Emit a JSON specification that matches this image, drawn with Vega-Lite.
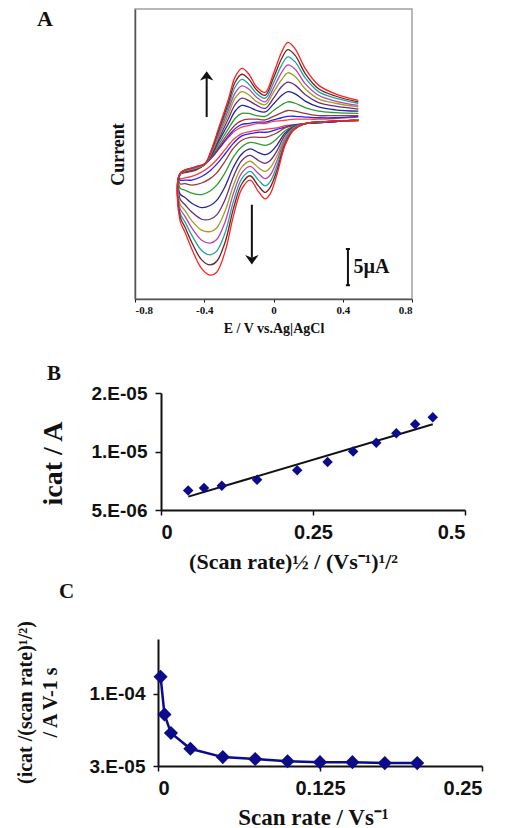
{
"$schema":"https://vega.github.io/schema/vega-lite/v6.json",
"background":"white",
"padding":{"left":15,"top":7,"right":5,"bottom":0},
"spacing":9,
"config":{"view":{"stroke":null},"axis":{"grid":false,"labelOverlap":false,"domainColor":"#111","tickColor":"#111","labelColor":"#111","titleColor":"#111"}},
"datasets":{
"cv":[
{"c":1,"o":1,"E":0.49,"I":4.7},{"c":1,"o":2,"E":0.318,"I":4.4},{"c":1,"o":3,"E":0.183,"I":4.2},{"c":1,"o":4,"E":0.116,"I":4.0},{"c":1,"o":5,"E":0.067,"I":3.9},{"c":1,"o":6,"E":0.019,"I":3.6},{"c":1,"o":7,"E":-0.019,"I":3.5},{"c":1,"o":8,"E":-0.048,"I":3.4},{"c":1,"o":9,"E":-0.087,"I":3.3},{"c":1,"o":10,"E":-0.135,"I":3.1},{"c":1,"o":11,"E":-0.183,"I":2.8},{"c":1,"o":12,"E":-0.231,"I":2.0},{"c":1,"o":13,"E":-0.28,"I":0.6},{"c":1,"o":14,"E":-0.328,"I":-0.8},{"c":1,"o":15,"E":-0.366,"I":-1.7},{"c":1,"o":16,"E":-0.415,"I":-2.5},{"c":1,"o":17,"E":-0.472,"I":-3.1},{"c":1,"o":18,"E":-0.511,"I":-3.3},{"c":1,"o":19,"E":-0.54,"I":-3.4},{"c":1,"o":20,"E":-0.54,"I":-2.8},{"c":1,"o":21,"E":-0.453,"I":-2.3},{"c":1,"o":22,"E":-0.395,"I":-1.4},{"c":1,"o":23,"E":-0.357,"I":-0.5},{"c":1,"o":24,"E":-0.318,"I":0.6},{"c":1,"o":25,"E":-0.26,"I":2.3},{"c":1,"o":26,"E":-0.222,"I":3.2},{"c":1,"o":27,"E":-0.183,"I":3.7},{"c":1,"o":28,"E":-0.145,"I":3.9},{"c":1,"o":29,"E":-0.096,"I":4.2},{"c":1,"o":30,"E":-0.048,"I":4.2},{"c":1,"o":31,"E":0,"I":4.5},{"c":1,"o":32,"E":0.048,"I":4.6},{"c":1,"o":33,"E":0.083,"I":4.7},{"c":1,"o":34,"E":0.125,"I":4.8},{"c":1,"o":35,"E":0.183,"I":4.8},{"c":1,"o":36,"E":0.26,"I":4.8},{"c":1,"o":37,"E":0.357,"I":4.9},{"c":1,"o":38,"E":0.49,"I":5.1},
{"c":2,"o":1,"E":0.49,"I":4.7},{"c":2,"o":2,"E":0.318,"I":4.4},{"c":2,"o":3,"E":0.183,"I":4.2},{"c":2,"o":4,"E":0.116,"I":4.0},{"c":2,"o":5,"E":0.067,"I":3.7},{"c":2,"o":6,"E":0.019,"I":3.4},{"c":2,"o":7,"E":-0.019,"I":3.1},{"c":2,"o":8,"E":-0.048,"I":3.0},{"c":2,"o":9,"E":-0.087,"I":3.0},{"c":2,"o":10,"E":-0.135,"I":2.8},{"c":2,"o":11,"E":-0.183,"I":2.5},{"c":2,"o":12,"E":-0.231,"I":1.5},{"c":2,"o":13,"E":-0.28,"I":0.0},{"c":2,"o":14,"E":-0.328,"I":-1.4},{"c":2,"o":15,"E":-0.366,"I":-2.3},{"c":2,"o":16,"E":-0.415,"I":-3.1},{"c":2,"o":17,"E":-0.472,"I":-3.6},{"c":2,"o":18,"E":-0.511,"I":-3.6},{"c":2,"o":19,"E":-0.54,"I":-3.6},{"c":2,"o":20,"E":-0.54,"I":-2.8},{"c":2,"o":21,"E":-0.453,"I":-2.2},{"c":2,"o":22,"E":-0.395,"I":-1.4},{"c":2,"o":23,"E":-0.357,"I":-0.5},{"c":2,"o":24,"E":-0.318,"I":0.7},{"c":2,"o":25,"E":-0.26,"I":2.5},{"c":2,"o":26,"E":-0.222,"I":3.5},{"c":2,"o":27,"E":-0.183,"I":4.1},{"c":2,"o":28,"E":-0.145,"I":4.2},{"c":2,"o":29,"E":-0.096,"I":4.4},{"c":2,"o":30,"E":-0.048,"I":4.4},{"c":2,"o":31,"E":0,"I":4.7},{"c":2,"o":32,"E":0.048,"I":5.0},{"c":2,"o":33,"E":0.083,"I":5.2},{"c":2,"o":34,"E":0.125,"I":5.2},{"c":2,"o":35,"E":0.183,"I":5.1},{"c":2,"o":36,"E":0.26,"I":5.0},{"c":2,"o":37,"E":0.357,"I":5.0},{"c":2,"o":38,"E":0.49,"I":5.2},
{"c":3,"o":1,"E":0.49,"I":4.7},{"c":3,"o":2,"E":0.318,"I":4.4},{"c":3,"o":3,"E":0.183,"I":4.2},{"c":3,"o":4,"E":0.116,"I":3.9},{"c":3,"o":5,"E":0.067,"I":3.6},{"c":3,"o":6,"E":0.019,"I":2.9},{"c":3,"o":7,"E":-0.019,"I":2.5},{"c":3,"o":8,"E":-0.048,"I":2.3},{"c":3,"o":9,"E":-0.087,"I":2.3},{"c":3,"o":10,"E":-0.135,"I":2.3},{"c":3,"o":11,"E":-0.183,"I":1.9},{"c":3,"o":12,"E":-0.231,"I":0.8},{"c":3,"o":13,"E":-0.28,"I":-1.0},{"c":3,"o":14,"E":-0.328,"I":-2.6},{"c":3,"o":15,"E":-0.366,"I":-3.4},{"c":3,"o":16,"E":-0.415,"I":-4.0},{"c":3,"o":17,"E":-0.472,"I":-4.3},{"c":3,"o":18,"E":-0.511,"I":-4.1},{"c":3,"o":19,"E":-0.54,"I":-4.1},{"c":3,"o":20,"E":-0.54,"I":-2.8},{"c":3,"o":21,"E":-0.453,"I":-2.2},{"c":3,"o":22,"E":-0.395,"I":-1.4},{"c":3,"o":23,"E":-0.357,"I":-0.4},{"c":3,"o":24,"E":-0.318,"I":0.9},{"c":3,"o":25,"E":-0.26,"I":2.9},{"c":3,"o":26,"E":-0.222,"I":4.0},{"c":3,"o":27,"E":-0.183,"I":4.6},{"c":3,"o":28,"E":-0.145,"I":4.8},{"c":3,"o":29,"E":-0.096,"I":4.8},{"c":3,"o":30,"E":-0.048,"I":4.7},{"c":3,"o":31,"E":0,"I":5.2},{"c":3,"o":32,"E":0.048,"I":5.7},{"c":3,"o":33,"E":0.083,"I":6.0},{"c":3,"o":34,"E":0.125,"I":5.9},{"c":3,"o":35,"E":0.183,"I":5.6},{"c":3,"o":36,"E":0.26,"I":5.3},{"c":3,"o":37,"E":0.357,"I":5.3},{"c":3,"o":38,"E":0.49,"I":5.3},
{"c":4,"o":1,"E":0.49,"I":4.7},{"c":4,"o":2,"E":0.318,"I":4.4},{"c":4,"o":3,"E":0.183,"I":4.2},{"c":4,"o":4,"E":0.116,"I":3.8},{"c":4,"o":5,"E":0.067,"I":3.2},{"c":4,"o":6,"E":0.019,"I":2.1},{"c":4,"o":7,"E":-0.019,"I":1.4},{"c":4,"o":8,"E":-0.048,"I":1.2},{"c":4,"o":9,"E":-0.087,"I":1.4},{"c":4,"o":10,"E":-0.135,"I":1.6},{"c":4,"o":11,"E":-0.183,"I":1.0},{"c":4,"o":12,"E":-0.231,"I":-0.4},{"c":4,"o":13,"E":-0.28,"I":-2.6},{"c":4,"o":14,"E":-0.328,"I":-4.3},{"c":4,"o":15,"E":-0.366,"I":-5.1},{"c":4,"o":16,"E":-0.415,"I":-5.6},{"c":4,"o":17,"E":-0.472,"I":-5.4},{"c":4,"o":18,"E":-0.511,"I":-5.0},{"c":4,"o":19,"E":-0.54,"I":-4.7},{"c":4,"o":20,"E":-0.54,"I":-2.8},{"c":4,"o":21,"E":-0.453,"I":-2.1},{"c":4,"o":22,"E":-0.395,"I":-1.4},{"c":4,"o":23,"E":-0.357,"I":-0.2},{"c":4,"o":24,"E":-0.318,"I":1.3},{"c":4,"o":25,"E":-0.26,"I":3.5},{"c":4,"o":26,"E":-0.222,"I":4.9},{"c":4,"o":27,"E":-0.183,"I":5.6},{"c":4,"o":28,"E":-0.145,"I":5.6},{"c":4,"o":29,"E":-0.096,"I":5.3},{"c":4,"o":30,"E":-0.048,"I":5.2},{"c":4,"o":31,"E":0,"I":6.0},{"c":4,"o":32,"E":0.048,"I":6.8},{"c":4,"o":33,"E":0.083,"I":7.2},{"c":4,"o":34,"E":0.125,"I":7.0},{"c":4,"o":35,"E":0.183,"I":6.4},{"c":4,"o":36,"E":0.26,"I":5.9},{"c":4,"o":37,"E":0.357,"I":5.7},{"c":4,"o":38,"E":0.49,"I":5.6},
{"c":5,"o":1,"E":0.49,"I":4.7},{"c":5,"o":2,"E":0.318,"I":4.4},{"c":5,"o":3,"E":0.183,"I":4.2},{"c":5,"o":4,"E":0.116,"I":3.7},{"c":5,"o":5,"E":0.067,"I":2.9},{"c":5,"o":6,"E":0.019,"I":1.2},{"c":5,"o":7,"E":-0.019,"I":0.2},{"c":5,"o":8,"E":-0.048,"I":-0.1},{"c":5,"o":9,"E":-0.087,"I":0.2},{"c":5,"o":10,"E":-0.135,"I":0.7},{"c":5,"o":11,"E":-0.183,"I":0.0},{"c":5,"o":12,"E":-0.231,"I":-1.8},{"c":5,"o":13,"E":-0.28,"I":-4.5},{"c":5,"o":14,"E":-0.328,"I":-6.4},{"c":5,"o":15,"E":-0.366,"I":-7.1},{"c":5,"o":16,"E":-0.415,"I":-7.4},{"c":5,"o":17,"E":-0.472,"I":-6.8},{"c":5,"o":18,"E":-0.511,"I":-6.0},{"c":5,"o":19,"E":-0.54,"I":-5.5},{"c":5,"o":20,"E":-0.54,"I":-2.8},{"c":5,"o":21,"E":-0.453,"I":-2.1},{"c":5,"o":22,"E":-0.395,"I":-1.4},{"c":5,"o":23,"E":-0.357,"I":-0.1},{"c":5,"o":24,"E":-0.318,"I":1.7},{"c":5,"o":25,"E":-0.26,"I":4.2},{"c":5,"o":26,"E":-0.222,"I":5.9},{"c":5,"o":27,"E":-0.183,"I":6.7},{"c":5,"o":28,"E":-0.145,"I":6.5},{"c":5,"o":29,"E":-0.096,"I":6.0},{"c":5,"o":30,"E":-0.048,"I":5.8},{"c":5,"o":31,"E":0,"I":6.9},{"c":5,"o":32,"E":0.048,"I":8.1},{"c":5,"o":33,"E":0.083,"I":8.6},{"c":5,"o":34,"E":0.125,"I":8.3},{"c":5,"o":35,"E":0.183,"I":7.3},{"c":5,"o":36,"E":0.26,"I":6.5},{"c":5,"o":37,"E":0.357,"I":6.1},{"c":5,"o":38,"E":0.49,"I":5.9},
{"c":6,"o":1,"E":0.49,"I":4.7},{"c":6,"o":2,"E":0.318,"I":4.4},{"c":6,"o":3,"E":0.183,"I":4.2},{"c":6,"o":4,"E":0.116,"I":3.6},{"c":6,"o":5,"E":0.067,"I":2.6},{"c":6,"o":6,"E":0.019,"I":0.4},{"c":6,"o":7,"E":-0.019,"I":-0.9},{"c":6,"o":8,"E":-0.048,"I":-1.3},{"c":6,"o":9,"E":-0.087,"I":-0.9},{"c":6,"o":10,"E":-0.135,"I":-0.2},{"c":6,"o":11,"E":-0.183,"I":-0.9},{"c":6,"o":12,"E":-0.231,"I":-3.1},{"c":6,"o":13,"E":-0.28,"I":-6.3},{"c":6,"o":14,"E":-0.328,"I":-8.4},{"c":6,"o":15,"E":-0.366,"I":-9.0},{"c":6,"o":16,"E":-0.415,"I":-9.0},{"c":6,"o":17,"E":-0.472,"I":-8.0},{"c":6,"o":18,"E":-0.511,"I":-7.0},{"c":6,"o":19,"E":-0.54,"I":-6.2},{"c":6,"o":20,"E":-0.54,"I":-2.8},{"c":6,"o":21,"E":-0.453,"I":-2.0},{"c":6,"o":22,"E":-0.395,"I":-1.4},{"c":6,"o":23,"E":-0.357,"I":0.1},{"c":6,"o":24,"E":-0.318,"I":2.0},{"c":6,"o":25,"E":-0.26,"I":4.9},{"c":6,"o":26,"E":-0.222,"I":6.8},{"c":6,"o":27,"E":-0.183,"I":7.7},{"c":6,"o":28,"E":-0.145,"I":7.4},{"c":6,"o":29,"E":-0.096,"I":6.7},{"c":6,"o":30,"E":-0.048,"I":6.3},{"c":6,"o":31,"E":0,"I":7.7},{"c":6,"o":32,"E":0.048,"I":9.3},{"c":6,"o":33,"E":0.083,"I":9.9},{"c":6,"o":34,"E":0.125,"I":9.5},{"c":6,"o":35,"E":0.183,"I":8.2},{"c":6,"o":36,"E":0.26,"I":7.1},{"c":6,"o":37,"E":0.357,"I":6.6},{"c":6,"o":38,"E":0.49,"I":6.2},
{"c":7,"o":1,"E":0.49,"I":4.7},{"c":7,"o":2,"E":0.318,"I":4.5},{"c":7,"o":3,"E":0.183,"I":4.2},{"c":7,"o":4,"E":0.116,"I":3.6},{"c":7,"o":5,"E":0.067,"I":2.3},{"c":7,"o":6,"E":0.019,"I":-0.3},{"c":7,"o":7,"E":-0.019,"I":-1.9},{"c":7,"o":8,"E":-0.048,"I":-2.4},{"c":7,"o":9,"E":-0.087,"I":-1.9},{"c":7,"o":10,"E":-0.135,"I":-1.0},{"c":7,"o":11,"E":-0.183,"I":-1.8},{"c":7,"o":12,"E":-0.231,"I":-4.3},{"c":7,"o":13,"E":-0.28,"I":-7.9},{"c":7,"o":14,"E":-0.328,"I":-10.2},{"c":7,"o":15,"E":-0.366,"I":-10.7},{"c":7,"o":16,"E":-0.415,"I":-10.5},{"c":7,"o":17,"E":-0.472,"I":-9.2},{"c":7,"o":18,"E":-0.511,"I":-7.8},{"c":7,"o":19,"E":-0.54,"I":-6.9},{"c":7,"o":20,"E":-0.54,"I":-2.8},{"c":7,"o":21,"E":-0.453,"I":-2.0},{"c":7,"o":22,"E":-0.395,"I":-1.4},{"c":7,"o":23,"E":-0.357,"I":0.2},{"c":7,"o":24,"E":-0.318,"I":2.3},{"c":7,"o":25,"E":-0.26,"I":5.5},{"c":7,"o":26,"E":-0.222,"I":7.7},{"c":7,"o":27,"E":-0.183,"I":8.6},{"c":7,"o":28,"E":-0.145,"I":8.2},{"c":7,"o":29,"E":-0.096,"I":7.2},{"c":7,"o":30,"E":-0.048,"I":6.8},{"c":7,"o":31,"E":0,"I":8.5},{"c":7,"o":32,"E":0.048,"I":10.3},{"c":7,"o":33,"E":0.083,"I":11.2},{"c":7,"o":34,"E":0.125,"I":10.7},{"c":7,"o":35,"E":0.183,"I":9.0},{"c":7,"o":36,"E":0.26,"I":7.6},{"c":7,"o":37,"E":0.357,"I":7.0},{"c":7,"o":38,"E":0.49,"I":6.5},
{"c":8,"o":1,"E":0.49,"I":4.6},{"c":8,"o":2,"E":0.318,"I":4.5},{"c":8,"o":3,"E":0.183,"I":4.2},{"c":8,"o":4,"E":0.116,"I":3.5},{"c":8,"o":5,"E":0.067,"I":2.0},{"c":8,"o":6,"E":0.019,"I":-1.0},{"c":8,"o":7,"E":-0.019,"I":-2.9},{"c":8,"o":8,"E":-0.048,"I":-3.4},{"c":8,"o":9,"E":-0.087,"I":-2.7},{"c":8,"o":10,"E":-0.135,"I":-1.7},{"c":8,"o":11,"E":-0.183,"I":-2.6},{"c":8,"o":12,"E":-0.231,"I":-5.4},{"c":8,"o":13,"E":-0.28,"I":-9.4},{"c":8,"o":14,"E":-0.328,"I":-11.8},{"c":8,"o":15,"E":-0.366,"I":-12.3},{"c":8,"o":16,"E":-0.415,"I":-11.9},{"c":8,"o":17,"E":-0.472,"I":-10.2},{"c":8,"o":18,"E":-0.511,"I":-8.6},{"c":8,"o":19,"E":-0.54,"I":-7.5},{"c":8,"o":20,"E":-0.54,"I":-2.7},{"c":8,"o":21,"E":-0.453,"I":-1.9},{"c":8,"o":22,"E":-0.395,"I":-1.4},{"c":8,"o":23,"E":-0.357,"I":0.4},{"c":8,"o":24,"E":-0.318,"I":2.6},{"c":8,"o":25,"E":-0.26,"I":6.1},{"c":8,"o":26,"E":-0.222,"I":8.4},{"c":8,"o":27,"E":-0.183,"I":9.4},{"c":8,"o":28,"E":-0.145,"I":9.0},{"c":8,"o":29,"E":-0.096,"I":7.8},{"c":8,"o":30,"E":-0.048,"I":7.2},{"c":8,"o":31,"E":0,"I":9.1},{"c":8,"o":32,"E":0.048,"I":11.3},{"c":8,"o":33,"E":0.083,"I":12.3},{"c":8,"o":34,"E":0.125,"I":11.7},{"c":8,"o":35,"E":0.183,"I":9.7},{"c":8,"o":36,"E":0.26,"I":8.1},{"c":8,"o":37,"E":0.357,"I":7.3},{"c":8,"o":38,"E":0.49,"I":6.7},
{"c":9,"o":1,"E":0.49,"I":4.6},{"c":9,"o":2,"E":0.318,"I":4.5},{"c":9,"o":3,"E":0.183,"I":4.2},{"c":9,"o":4,"E":0.116,"I":3.4},{"c":9,"o":5,"E":0.067,"I":1.7},{"c":9,"o":6,"E":0.019,"I":-1.7},{"c":9,"o":7,"E":-0.019,"I":-3.8},{"c":9,"o":8,"E":-0.048,"I":-4.4},{"c":9,"o":9,"E":-0.087,"I":-3.6},{"c":9,"o":10,"E":-0.135,"I":-2.4},{"c":9,"o":11,"E":-0.183,"I":-3.4},{"c":9,"o":12,"E":-0.231,"I":-6.5},{"c":9,"o":13,"E":-0.28,"I":-10.9},{"c":9,"o":14,"E":-0.328,"I":-13.4},{"c":9,"o":15,"E":-0.366,"I":-13.9},{"c":9,"o":16,"E":-0.415,"I":-13.3},{"c":9,"o":17,"E":-0.472,"I":-11.2},{"c":9,"o":18,"E":-0.511,"I":-9.4},{"c":9,"o":19,"E":-0.54,"I":-8.1},{"c":9,"o":20,"E":-0.54,"I":-2.7},{"c":9,"o":21,"E":-0.453,"I":-1.9},{"c":9,"o":22,"E":-0.395,"I":-1.4},{"c":9,"o":23,"E":-0.357,"I":0.5},{"c":9,"o":24,"E":-0.318,"I":2.9},{"c":9,"o":25,"E":-0.26,"I":6.6},{"c":9,"o":26,"E":-0.222,"I":9.2},{"c":9,"o":27,"E":-0.183,"I":10.3},{"c":9,"o":28,"E":-0.145,"I":9.7},{"c":9,"o":29,"E":-0.096,"I":8.3},{"c":9,"o":30,"E":-0.048,"I":7.7},{"c":9,"o":31,"E":0,"I":9.8},{"c":9,"o":32,"E":0.048,"I":12.3},{"c":9,"o":33,"E":0.083,"I":13.4},{"c":9,"o":34,"E":0.125,"I":12.7},{"c":9,"o":35,"E":0.183,"I":10.5},{"c":9,"o":36,"E":0.26,"I":8.6},{"c":9,"o":37,"E":0.357,"I":7.7},{"c":9,"o":38,"E":0.49,"I":7.0},
{"c":10,"o":1,"E":0.49,"I":4.6},{"c":10,"o":2,"E":0.318,"I":4.5},{"c":10,"o":3,"E":0.183,"I":4.2},{"c":10,"o":4,"E":0.116,"I":3.3},{"c":10,"o":5,"E":0.067,"I":1.4},{"c":10,"o":6,"E":0.019,"I":-2.3},{"c":10,"o":7,"E":-0.019,"I":-4.6},{"c":10,"o":8,"E":-0.048,"I":-5.3},{"c":10,"o":9,"E":-0.087,"I":-4.4},{"c":10,"o":10,"E":-0.135,"I":-3.0},{"c":10,"o":11,"E":-0.183,"I":-4.1},{"c":10,"o":12,"E":-0.231,"I":-7.5},{"c":10,"o":13,"E":-0.28,"I":-12.2},{"c":10,"o":14,"E":-0.328,"I":-14.8},{"c":10,"o":15,"E":-0.366,"I":-15.3},{"c":10,"o":16,"E":-0.415,"I":-14.6},{"c":10,"o":17,"E":-0.472,"I":-12.2},{"c":10,"o":18,"E":-0.511,"I":-10.1},{"c":10,"o":19,"E":-0.54,"I":-8.6},{"c":10,"o":20,"E":-0.54,"I":-2.7},{"c":10,"o":21,"E":-0.453,"I":-1.8},{"c":10,"o":22,"E":-0.395,"I":-1.3},{"c":10,"o":23,"E":-0.357,"I":0.6},{"c":10,"o":24,"E":-0.318,"I":3.2},{"c":10,"o":25,"E":-0.26,"I":7.1},{"c":10,"o":26,"E":-0.222,"I":9.9},{"c":10,"o":27,"E":-0.183,"I":11.0},{"c":10,"o":28,"E":-0.145,"I":10.4},{"c":10,"o":29,"E":-0.096,"I":8.8},{"c":10,"o":30,"E":-0.048,"I":8.1},{"c":10,"o":31,"E":0,"I":10.5},{"c":10,"o":32,"E":0.048,"I":13.2},{"c":10,"o":33,"E":0.083,"I":14.4},{"c":10,"o":34,"E":0.125,"I":13.6},{"c":10,"o":35,"E":0.183,"I":11.1},{"c":10,"o":36,"E":0.26,"I":9.0},{"c":10,"o":37,"E":0.357,"I":8.0},{"c":10,"o":38,"E":0.49,"I":7.2},
{"c":11,"o":1,"E":0.49,"I":4.6},{"c":11,"o":2,"E":0.318,"I":4.5},{"c":11,"o":3,"E":0.183,"I":4.2},{"c":11,"o":4,"E":0.116,"I":3.3},{"c":11,"o":5,"E":0.067,"I":1.2},{"c":11,"o":6,"E":0.019,"I":-2.9},{"c":11,"o":7,"E":-0.019,"I":-5.5},{"c":11,"o":8,"E":-0.048,"I":-6.2},{"c":11,"o":9,"E":-0.087,"I":-5.2},{"c":11,"o":10,"E":-0.135,"I":-3.6},{"c":11,"o":11,"E":-0.183,"I":-4.8},{"c":11,"o":12,"E":-0.231,"I":-8.5},{"c":11,"o":13,"E":-0.28,"I":-13.5},{"c":11,"o":14,"E":-0.328,"I":-16.3},{"c":11,"o":15,"E":-0.366,"I":-16.7},{"c":11,"o":16,"E":-0.415,"I":-15.8},{"c":11,"o":17,"E":-0.472,"I":-13.1},{"c":11,"o":18,"E":-0.511,"I":-10.8},{"c":11,"o":19,"E":-0.54,"I":-9.2},{"c":11,"o":20,"E":-0.54,"I":-2.7},{"c":11,"o":21,"E":-0.453,"I":-1.8},{"c":11,"o":22,"E":-0.395,"I":-1.3},{"c":11,"o":23,"E":-0.357,"I":0.7},{"c":11,"o":24,"E":-0.318,"I":3.5},{"c":11,"o":25,"E":-0.26,"I":7.6},{"c":11,"o":26,"E":-0.222,"I":10.6},{"c":11,"o":27,"E":-0.183,"I":11.8},{"c":11,"o":28,"E":-0.145,"I":11.1},{"c":11,"o":29,"E":-0.096,"I":9.2},{"c":11,"o":30,"E":-0.048,"I":8.5},{"c":11,"o":31,"E":0,"I":11.1},{"c":11,"o":32,"E":0.048,"I":14.1},{"c":11,"o":33,"E":0.083,"I":15.4},{"c":11,"o":34,"E":0.125,"I":14.5},{"c":11,"o":35,"E":0.183,"I":11.8},{"c":11,"o":36,"E":0.26,"I":9.5},{"c":11,"o":37,"E":0.357,"I":8.3},{"c":11,"o":38,"E":0.49,"I":7.4}
],
"seg":[
{"E":-0.386,"E2":-0.386,"I":5.1,"I2":10.6},
{"E":-0.125,"E2":-0.125,"I":-7.0,"I2":-14.3},
{"E":0.43,"E2":0.43,"I":-13.1,"I2":-18.1},
{"E":0.418,"E2":0.442,"I":-13.1,"I2":-13.1},
{"E":0.418,"E2":0.442,"I":-18.1,"I2":-18.1}
],
"head":[{"E":-0.386,"I":10.5,"d":"up"},{"E":-0.125,"I":-14.3,"d":"down"}],
"lbl":[{"E":0.462,"I":-16.4,"t":"5µA"}],
"b":[
{"x":0.0447,"y":6.30e-6},{"x":0.0707,"y":6.48e-6},{"x":0.1,"y":6.66e-6},{"x":0.158,"y":7.15e-6},{"x":0.224,"y":8.0e-6},{"x":0.274,"y":8.84e-6},{"x":0.316,"y":1.0e-5},{"x":0.354,"y":1.11e-5},{"x":0.387,"y":1.24e-5},{"x":0.418,"y":1.38e-5},{"x":0.447,"y":1.5e-5}
],
"bfit":[{"x":0.045,"y":5.86e-6},{"x":0.447,"y":1.38e-5}],
"c":[
{"x":0.002,"y":1.33e-4},{"x":0.005,"y":7.1e-5},{"x":0.01,"y":5.2e-5},{"x":0.025,"y":4.0e-5},{"x":0.05,"y":3.48e-5},{"x":0.075,"y":3.37e-5},{"x":0.1,"y":3.25e-5},{"x":0.125,"y":3.2e-5},{"x":0.15,"y":3.2e-5},{"x":0.175,"y":3.15e-5},{"x":0.2,"y":3.15e-5}
]
},
"vconcat":[
{
"width":277,"height":290,
"view":{"stroke":"#a0a0a0","strokeWidth":1.5},
"title":{"text":"A","anchor":"start","frame":"group","dx":-98,"dy":26,"offset":4,"fontSize":22,"font":"Liberation Serif","fontWeight":"bold","color":"#111"},
"layer":[
{"data":{"name":"cv"},"mark":{"type":"line","interpolate":"catmull-rom","strokeWidth":1.3},
"encoding":{
"x":{"field":"E","type":"quantitative","scale":{"domain":[-0.8,0.8],"nice":false,"zero":false},
"axis":{"values":[-0.8,-0.6,-0.4,-0.2,0,0.2,0.4,0.6,0.8],"labelExpr":"datum.value == 0 ? '0' : (datum.value < 0 ? '-' : '') + format(abs(datum.value), '.1f')","labelFont":"Liberation Serif","labelFontWeight":"bold","labelFontSize":11,"tickSize":3,"labelPadding":2,"domainColor":"#555","domainWidth":1.5,"title":"E / V vs.Ag|AgCl","titleFont":"Liberation Serif","titleFontSize":14,"titleFontWeight":"bold","titlePadding":6}},
"y":{"field":"I","type":"quantitative","scale":{"domain":[-20,20],"nice":false,"zero":false},
"axis":{"labels":false,"ticks":false,"domainColor":"#555","domainWidth":1.5,"title":"Current","titleFont":"Liberation Serif","titleFontSize":18,"titleFontWeight":"bold","titlePadding":8}},
"color":{"field":"c","type":"nominal","scale":{"domain":[1,2,3,4,5,6,7,8,9,10,11],"range":["#ff3b3b","#2424ff","#9b3a3a","#2f9a2f","#24249c","#6b2c7a","#9f9f22","#b544b8","#22a3a3","#6e2424","#ff1f1f"]},"legend":null},
"order":{"field":"o","type":"quantitative"}}},
{"data":{"name":"seg"},"mark":{"type":"rule","strokeWidth":2,"color":"#111"},
"encoding":{"x":{"field":"E","type":"quantitative"},"x2":{"field":"E2"},"y":{"field":"I","type":"quantitative"},"y2":{"field":"I2"}}},
{"data":{"name":"head"},"mark":{"type":"point","filled":true,"color":"#111","opacity":1,"size":180},
"encoding":{"x":{"field":"E","type":"quantitative"},"y":{"field":"I","type":"quantitative"},
"shape":{"field":"d","type":"nominal","scale":{"domain":["up","down"],"range":["M0,-1L1,0.4L0,0L-1,0.4Z","M0,1L1,-0.4L0,0L-1,-0.4Z"]},"legend":null}}},
{"data":{"name":"lbl"},"mark":{"type":"text","align":"left","baseline":"alphabetic","font":"Liberation Serif","fontSize":20,"fontWeight":"bold","color":"#111"},
"encoding":{"x":{"field":"E","type":"quantitative"},"y":{"field":"I","type":"quantitative"},"text":{"field":"t"}}}
]
},
{
"width":330,"height":117,
"title":{"text":["","B"],"anchor":"start","frame":"group","dx":-88,"offset":0,"fontSize":21,"lineHeight":18,"font":"Liberation Serif","fontWeight":"bold","color":"#111"},
"layer":[
{"data":{"name":"bfit"},"mark":{"type":"line","color":"#111","strokeWidth":2},
"encoding":{"x":{"field":"x","type":"quantitative","scale":{"domain":[0,0.5],"range":[26,330],"nice":false,"zero":false},
"axis":{"values":[0,0.25,0.5],"labelExpr":"datum.value == 0 ? '0' : datum.value < 0.3 ? '0.25' : '0.5'","labelFont":"Liberation Sans","labelFontWeight":"bold","labelFontSize":20,"tickSize":5,"labelPadding":7,"domainWidth":2,"tickWidth":1.5,"title":"(Scan rate)½ / (Vs⁻¹)¹/²","titleX":158,"titleFont":"Liberation Serif","titleFontSize":22,"titleFontWeight":"bold","titlePadding":9}},
"y":{"field":"y","type":"quantitative","scale":{"type":"log","domain":[5e-6,2e-5],"nice":false},
"axis":{"values":[5e-6,1e-5,2e-5],"offset":-26,"labelExpr":"datum.value > 1.5e-5 ? '2.E-05' : datum.value > 7e-6 ? '1.E-05' : '5.E-06'","labelFont":"Liberation Sans","labelFontWeight":"bold","labelFontSize":19,"tickSize":6,"labelPadding":8,"domainWidth":2,"tickWidth":1.5,"title":"icat / A","titleX":-94,"titleY":70,"titleFont":"Liberation Serif","titleFontSize":28,"titleFontWeight":"bold"}}}},
{"data":{"name":"b"},"mark":{"type":"point","shape":"diamond","filled":true,"size":110,"color":"#0b0b8c","opacity":1},
"encoding":{"x":{"field":"x","type":"quantitative"},"y":{"field":"y","type":"quantitative"}}}
]
},
{
"width":347,"height":127,
"title":{"text":"C","anchor":"start","frame":"group","dx":-76,"offset":18,"fontSize":21,"font":"Liberation Serif","fontWeight":"bold","color":"#111"},
"layer":[
{"data":{"name":"c"},"mark":{"type":"line","color":"#0b0b8c","strokeWidth":2.5,"point":{"shape":"diamond","filled":true,"size":200,"color":"#0b0b8c","opacity":1}},
"encoding":{"x":{"field":"x","type":"quantitative","scale":{"domain":[0,0.25],"range":[23,347],"nice":false,"zero":false},
"axis":{"values":[0,0.125,0.25],"labelExpr":"datum.value == 0 ? '0' : datum.value < 0.2 ? '0.125' : '0.25'","labelFont":"Liberation Sans","labelFontWeight":"bold","labelFontSize":20,"tickSize":5,"labelPadding":7,"domainWidth":2,"tickWidth":1.5,"title":"Scan rate / Vs⁻¹","titleX":178,"titleFont":"Liberation Serif","titleFontSize":23,"titleFontWeight":"bold","titlePadding":8}},
"y":{"field":"y","type":"quantitative","scale":{"type":"log","domain":[3e-5,2.5e-4],"nice":false},
"axis":{"values":[3e-5,1e-4],"offset":-23,"labelExpr":"datum.value > 5e-5 ? '1.E-04' : '3.E-05'","labelFont":"Liberation Sans","labelFontWeight":"bold","labelFontSize":19,"tickSize":5,"labelPadding":8,"domainWidth":2,"tickWidth":1.5,"title":["(icat /(scan rate)¹/²)","/ A V-1 s"],"titleX":-123,"titleY":63,"titleFont":"Liberation Serif","titleFontSize":20,"titleLineHeight":25,"titleFontWeight":"bold"}}}}
]
}
]
}
